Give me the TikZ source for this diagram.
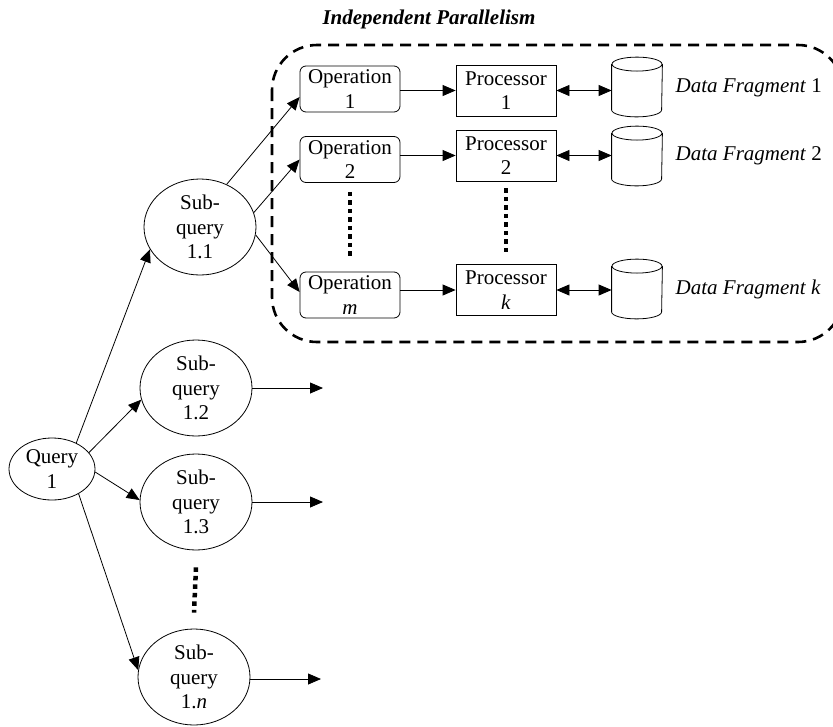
\documentclass[tikz,border=0pt]{standalone}
\usepackage{fontspec}
\setmainfont{Liberation Serif}
\usetikzlibrary{arrows.meta,shapes.geometric}

\begin{document}
\begin{tikzpicture}[
  x=1pt, y=1pt,
  font=\fontsize{21}{24.5}\selectfont,
  line width=0.8pt,
  tip/.style={-{Triangle[length=13pt,width=11pt]}},
  dtip/.style={{Triangle[length=13pt,width=11pt]}-{Triangle[length=13pt,width=11pt]}},
  opbox/.style={draw, rounded corners=6pt, minimum width=100pt, minimum height=46pt, inner sep=0pt, align=center},
  procbox/.style={draw, minimum width=100pt, minimum height=51pt, inner sep=0pt, align=center},
  dbslot/.style={minimum width=50pt, minimum height=59pt, inner sep=0pt},
  sq/.style={draw, ellipse, minimum width=112pt, minimum height=96pt, inner sep=0pt, align=center},
  qry/.style={draw, ellipse, minimum width=86pt, minimum height=62pt, inner sep=0pt, align=center},
  dots/.style={line width=4.5pt, dash pattern=on 4.5pt off 4pt},
  frag/.style={anchor=west, font=\fontsize{21}{24.5}\selectfont\itshape},
  frame/.style={line width=2.6pt, dash pattern=on 11pt off 7pt, rounded corners=45pt},
]
\clip (0,0) rectangle (833,-726);

% title and the dashed frame of the parallel part
\node (title) at (429,-19) {\bfseries\itshape Independent Parallelism};
\draw[frame] (272,-45) rectangle (843,-342);

% query and its sub-queries
\node[qry] (q) at (52,-469) {Query\\1};
\node[sq] (s11) at (200,-227) {Sub-\\query\\1.1};
\node[sq] (s12) at (196,-388) {Sub-\\query\\1.2};
\node[sq] (s13) at (196,-502) {Sub-\\query\\1.3};
\node[sq] (s1n) at (194,-677) {Sub-\\query\\1.\textit{n}};
\coordinate (o12) at (323,-388);
\coordinate (o13) at (323,-502);
\coordinate (o1n) at (321,-679);

% operations, processors and data fragments
\node[opbox] (op1) at (350,-89) {Operation\\1};
\node[opbox] (op2) at (350,-159.5) {Operation\\2};
\node[opbox] (opm) at (350,-295) {Operation\\\textit{m}};
\node[procbox] (p1) at (506,-90.5) {Processor\\1};
\node[procbox] (p2) at (506,-155.5) {Processor\\2};
\node[procbox] (pk) at (506,-290) {Processor\\\textit{k}};
\node[dbslot] (db1) at (637,-87) {};
\node[dbslot] (db2) at (637,-156) {};
\node[dbslot] (dbk) at (637,-289) {};
\node[frag] (f1) at (672,-88) {Data Fragment \textup{1}};
\node[frag] (f2) at (672,-156) {Data Fragment \textup{2}};
\node[frag] (fk) at (672,-289) {Data Fragment k};

% cylinders
\foreach \d in {db1,db2,dbk}{
  \draw ([yshift=-7pt]\d.north) ellipse [x radius=25pt, y radius=7pt];
  \draw ([yshift=-7pt]\d.north west) -- ([yshift=7pt]\d.south west)
        arc[start angle=180, end angle=360, x radius=25pt, y radius=7pt]
        -- ([yshift=-7pt]\d.north east);
}

% connectors
\draw[tip] (q.47) -- (s11.204);
\draw[tip] (q.24) -- (s12.192);
\draw[tip] (q.-4) -- (s13.178);
\draw[tip] (q.-43) -- (s1n.173);
\draw[tip] (s12.east) -- (o12);
\draw[tip] (s13.east) -- (o13);
\draw[tip] (s1n.east |- o1n) -- (o1n);
\draw[tip] (s11.58) -- ([yshift=-8pt]op1.west);
\draw[tip] (s11.15) -- (op2.west);
\draw[tip] (s11.-8) -- ([yshift=3pt]opm.west);
\foreach \o/\p in {op1/p1, op2/p2, opm/pk}
  \draw[tip] (\p.west -| \o.east) -- (\p.west);
\foreach \p/\d in {p1/db1, p2/db2, pk/dbk}
  \draw[dtip] (\p.east) -- (\p.east -| \d.west);

% ellipsis marks
\draw[dots] ([yshift=-9pt]op2.south) -- ([yshift=15pt]opm.north);
\draw[dots] ([yshift=-7pt]p2.south) -- ([yshift=10pt]pk.north);
\draw[dots] ([yshift=-17pt]s13.south) -- ([yshift=16pt]s1n.north);
\end{tikzpicture}
\end{document}
